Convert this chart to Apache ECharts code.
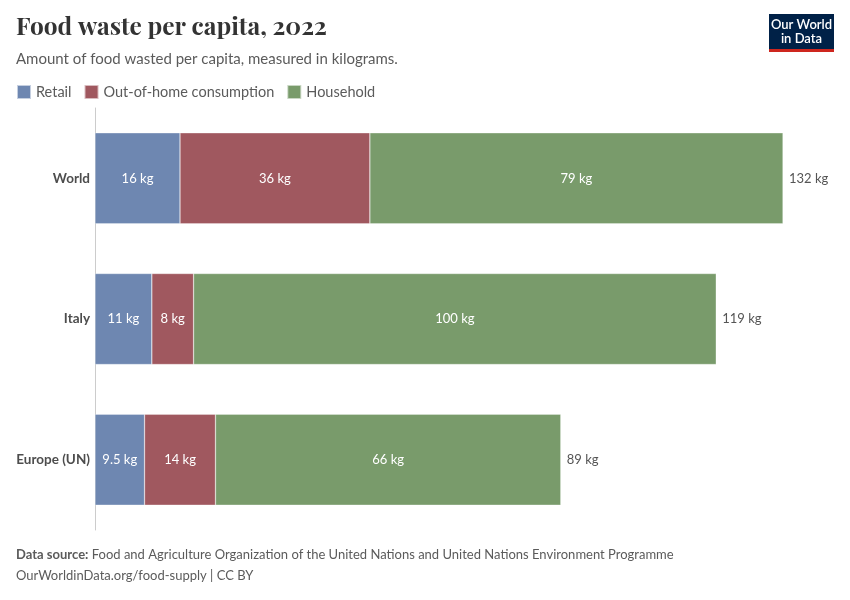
<!DOCTYPE html>
<html>
<head>
<meta charset="utf-8">
<script src="https://cdn.jsdelivr.net/npm/echarts@6/dist/echarts.min.js"></script>
<style>
html,body{margin:0;padding:0;background:#fff;}
#c{width:850px;height:600px;}
</style>
</head>
<body>
<div id="c"></div>
<script>
const categories = ["World", "Italy", "Europe (UN)"];
const retail = [16.3, 10.9, 9.5];
const outOfHome = [36.4, 8.0, 13.6];
const household = [79.2, 100.2, 66.2];
const seriesNames = ["Retail", "Out-of-home consumption", "Household"];
const colors = ["#6e87b1", "#a0585f", "#799b6b"];

const totals = categories.map((_, i) => retail[i] + outOfHome[i] + household[i]);
function fmt(v) {
  if (v >= 100) return Math.round(v) + " kg";
  return Number(v.toPrecision(2)) + " kg";
}

const chart = echarts.init(document.getElementById('c'));
const FONT = 'Lato, "Noto Sans", sans-serif';

function stackSeries(name, data, color) {
  return {
    name: name,
    type: 'bar',
    stack: 'total',
    data: data,
    barWidth: 91,
    itemStyle: { color: color, borderColor: 'rgba(255,255,255,0.6)', borderWidth: 0.5 },
    label: {
      show: true, position: 'inside', color: '#fff', fontFamily: FONT, fontSize: 13,
      formatter: p => fmt(p.value)
    },
    emphasis: { disabled: true },
    animation: false
  };
}

chart.setOption({
  animation: false,
  graphic: [
    { type: 'text', left: 16, top: 15, style: { text: 'Food waste per capita, 2022', font: 'bold 24.5px "Playfair Display", "DejaVu Serif", "Liberation Serif", serif', fill: '#333' } },
    { type: 'text', left: 16, top: 52, style: { text: 'Amount of food wasted per capita, measured in kilograms.', font: '15px ' + FONT, fill: '#5b5b5b' } },
    { type: 'rect', shape: { x: 769, y: 14, width: 65, height: 35 }, style: { fill: '#002147' } },
    { type: 'rect', shape: { x: 769, y: 49, width: 65, height: 3 }, style: { fill: '#ce261e' } },
    { type: 'text', x: 801.5, y: 31.5, style: { text: 'Our World\nin Data', font: '600 13px ' + FONT, fill: '#fff', align: 'center', verticalAlign: 'middle', lineHeight: 14 } },
    { type: 'text', left: 16, top: 548, style: { rich: { b: { fontFamily: FONT, fontSize: 13, fontWeight: 'bold', fill: '#5b5b5b' }, n: { fontFamily: FONT, fontSize: 13, fill: '#5b5b5b' } }, text: '{b|Data source:} {n|Food and Agriculture Organization of the United Nations and United Nations Environment Programme}' } },
    { type: 'text', left: 16, top: 569, style: { text: 'OurWorldinData.org/food-supply | CC BY', font: '13px ' + FONT, fill: '#5b5b5b' } }
  ],
  legend: {
    left: 11, top: 79,
    itemWidth: 14, itemHeight: 14, itemGap: 12,
    icon: 'rect',
    data: seriesNames,
    textStyle: { fontFamily: FONT, fontSize: 14.5, color: '#5b5b5b' },
    selectedMode: false
  },
  grid: { left: 95, right: 67, top: 108, bottom: 70, containLabel: false },
  xAxis: {
    type: 'value', min: 0, max: 'dataMax',
    show: false
  },
  yAxis: {
    type: 'category', data: categories, inverse: true,
    axisLine: { show: true, lineStyle: { color: '#ccc', width: 1 } },
    axisTick: { show: false },
    axisLabel: { fontFamily: FONT, fontSize: 13.5, fontWeight: 'bold', color: '#4d4d4d', margin: 5 }
  },
  series: [
    stackSeries(seriesNames[0], retail, colors[0]),
    stackSeries(seriesNames[1], outOfHome, colors[1]),
    stackSeries(seriesNames[2], household, colors[2]),
    {
      name: 'Total', type: 'bar', data: totals, barWidth: 91, barGap: '-100%', z: 1,
      itemStyle: { color: 'rgba(0,0,0,0)' }, silent: true,
      label: { show: true, position: 'right', distance: 6, color: '#555', fontFamily: FONT, fontSize: 13, formatter: p => fmt(p.value) }
    }
  ]
});
</script>
</body>
</html>
